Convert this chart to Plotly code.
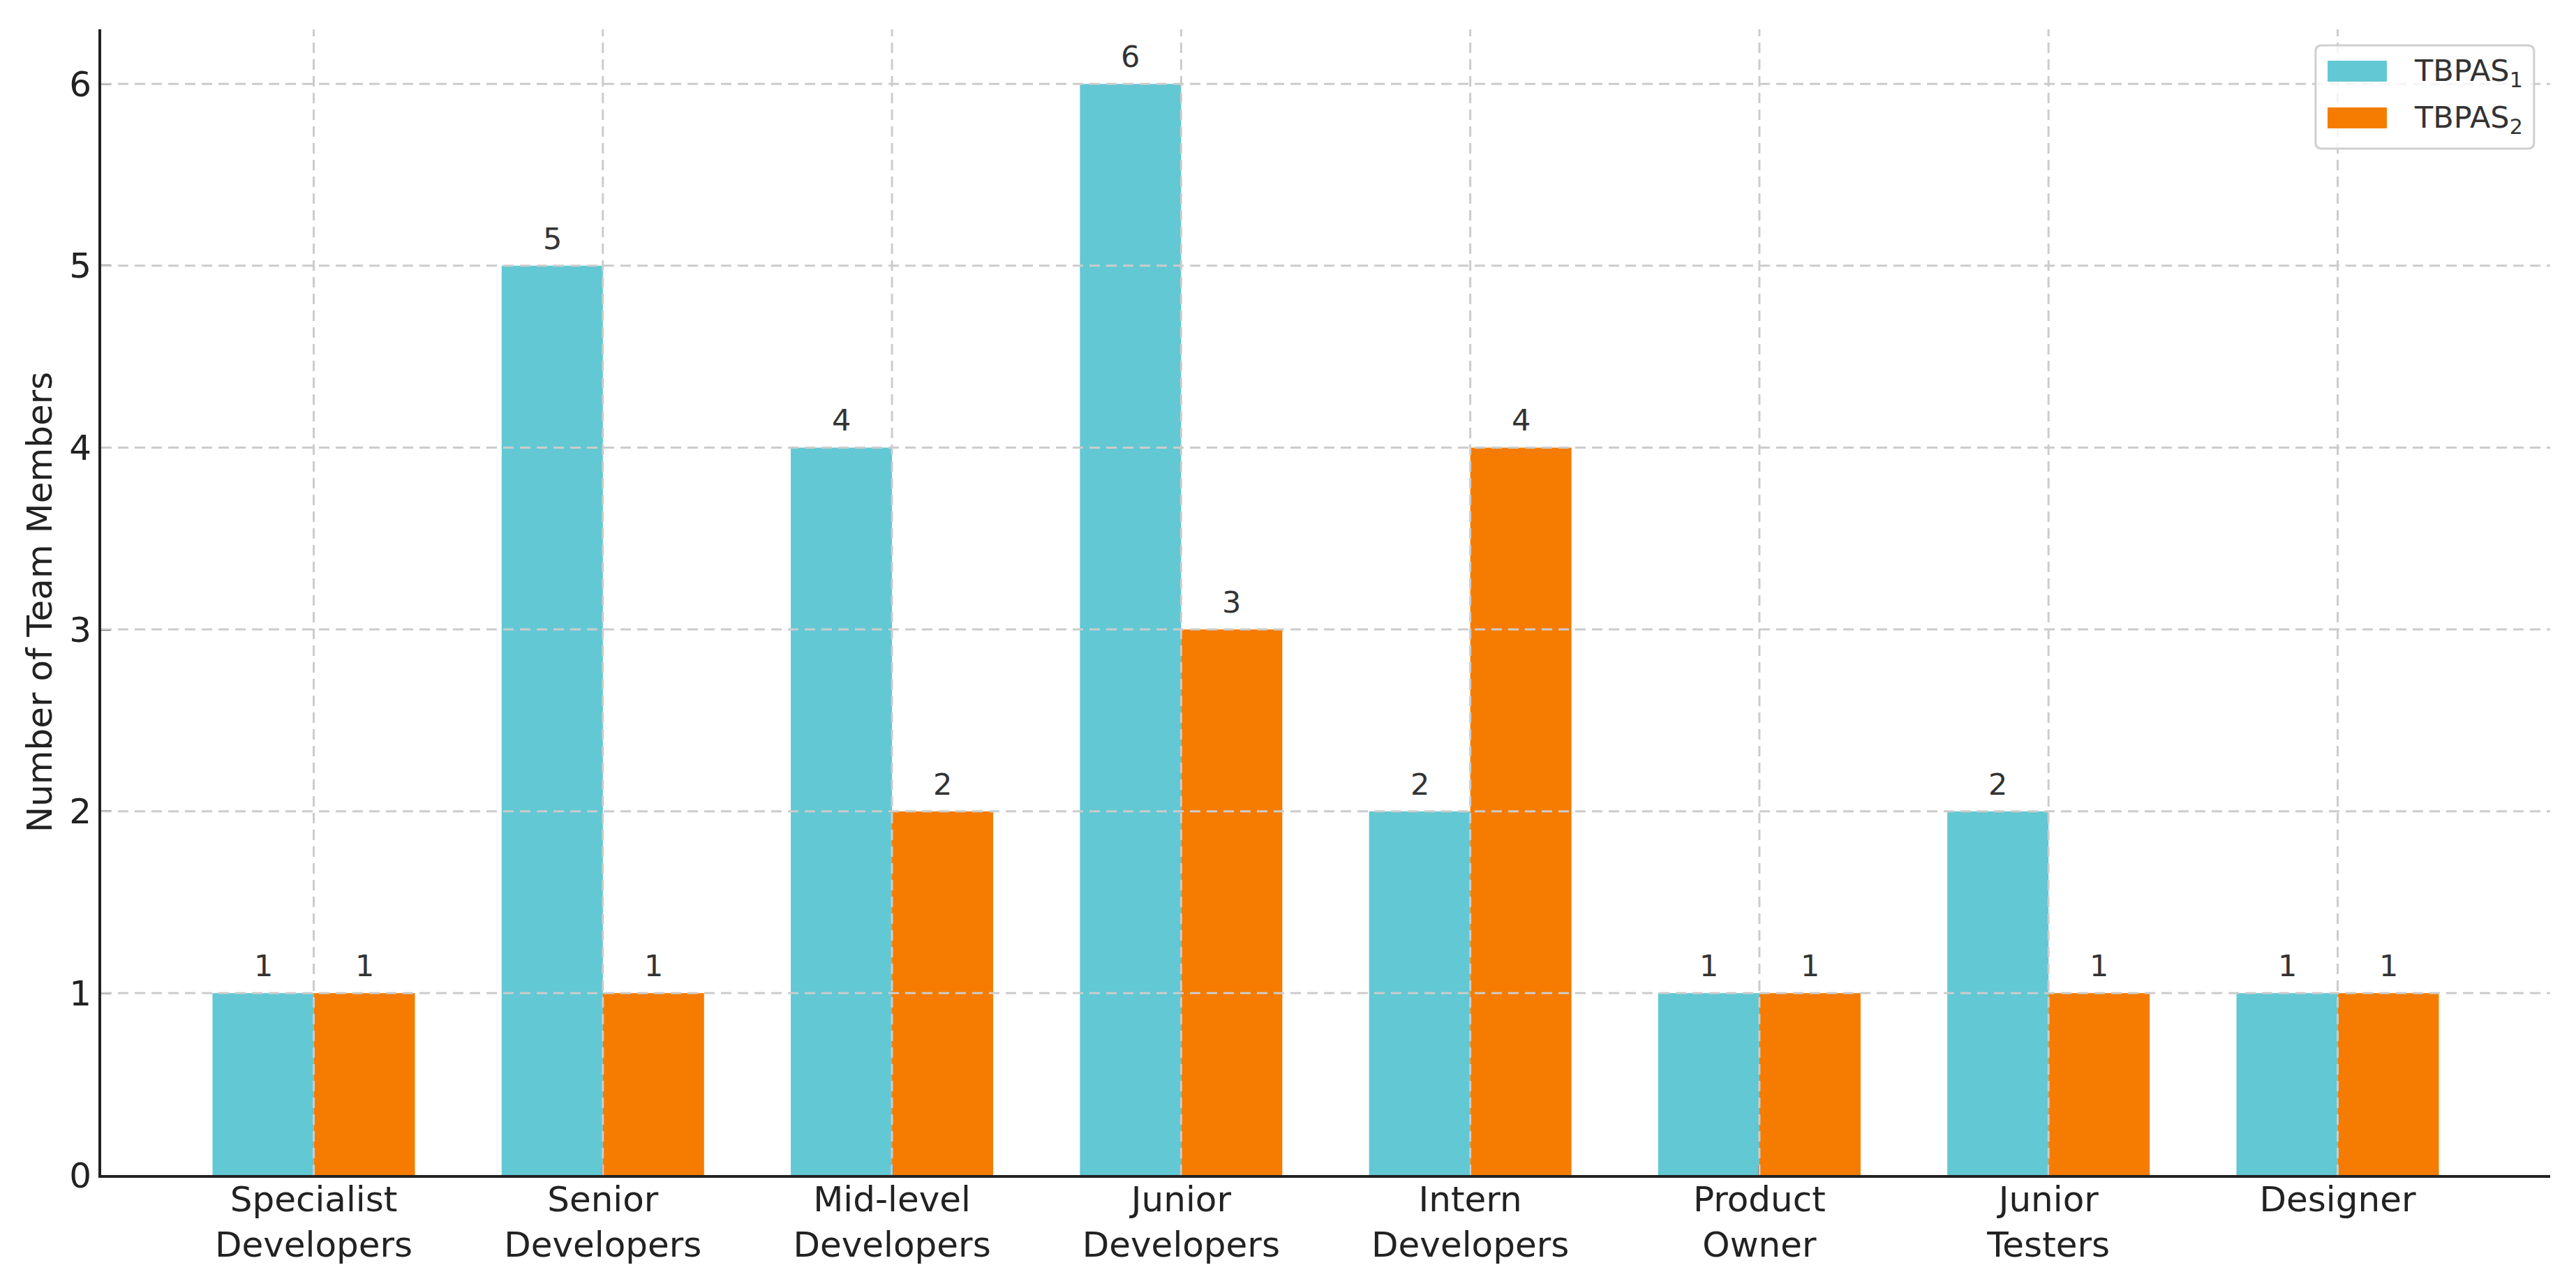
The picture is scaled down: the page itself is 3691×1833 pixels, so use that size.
import numpy as np
import plotly.graph_objects as go

categories = ["Specialist<br>Developers", "Senior<br>Developers", "Mid-level<br>Developers",
              "Junior<br>Developers", "Intern<br>Developers", "Product<br>Owner",
              "Junior<br>Testers", "Designer"]
tbpas1 = [1, 5, 4, 6, 2, 1, 2, 1]
tbpas2 = [1, 1, 2, 3, 4, 1, 1, 1]
series_names = ["TBPAS<sub>1</sub>", "TBPAS<sub>2</sub>"]
y_ticks = [0, 1, 2, 3, 4, 5, 6]

colors = ["#62c8d3", "#f57c00"]
bar_w = 0.35
idx = np.arange(len(categories))

FONT = "DejaVu Sans"
TXT = "#333333"

fig = go.Figure()
annotations = []
series = [(tbpas1, series_names[0], colors[0], -bar_w),
          (tbpas2, series_names[1], colors[1], 0.0)]
for vals, name, col, off in series:
    fig.add_trace(go.Bar(
        x=idx, y=vals, name=name, width=bar_w, offset=off,
        marker=dict(color=col, line=dict(width=0)),
        showlegend=False,
    ))
    for i, v in zip(idx, vals):
        annotations.append(dict(
            x=i + off + bar_w / 2, y=v, xref="x", yref="y",
            text=str(v), showarrow=False, yanchor="bottom", yshift=12,
            font=dict(family=FONT, size=43, color=TXT),
        ))

lo = idx[0] - bar_w
hi = idx[-1] + bar_w
pad = 0.05 * (hi - lo)
ymax = max(max(tbpas1), max(tbpas2)) * 1.05

grid = dict(color="#cccccc", width=3, dash="15px,9px")
shapes = []
for t in y_ticks[1:]:
    shapes.append(dict(type="line", xref="paper", yref="y", x0=0, x1=1, y0=t, y1=t,
                       line=grid, layer="above"))
for i in idx:
    shapes.append(dict(type="line", xref="x", yref="paper", x0=i, x1=i, y0=0, y1=1,
                       line=grid, layer="above"))

# Legend (drawn as a framed box, matching the reference's wide swatches)
PW, PH = 3509.0, 1642.0  # plot area size in px
def px_x(p):
    return p / PW
def px_y(p):
    return p / PH

bx0, bx1 = 0.9042, 0.9934
by1, by0 = 0.9860, 0.8958
rx, ry = px_x(9), px_y(9)
box_path = (f"M{bx0+rx},{by0} L{bx1-rx},{by0} Q{bx1},{by0} {bx1},{by0+ry} "
            f"L{bx1},{by1-ry} Q{bx1},{by1} {bx1-rx},{by1} "
            f"L{bx0+rx},{by1} Q{bx0},{by1} {bx0},{by1-ry} "
            f"L{bx0},{by0+ry} Q{bx0},{by0} {bx0+rx},{by0} Z")
shapes.append(dict(type="path", xref="paper", yref="paper", path=box_path,
                   fillcolor="rgba(255,255,255,0.8)",
                   line=dict(color="#d0d0d0", width=3), layer="above"))
row_y = [0.9635, 0.9227]
sw_x0, sw_x1 = 0.9091, 0.9333
sw_h = px_y(30)
for (vals, name, col, off), ry_c in zip(series, row_y):
    shapes.append(dict(type="rect", xref="paper", yref="paper",
                       x0=sw_x0, x1=sw_x1, y0=ry_c - sw_h / 2, y1=ry_c + sw_h / 2,
                       fillcolor=col, line=dict(width=0), layer="above"))
    annotations.append(dict(
        x=0.9439, y=ry_c, xref="paper", yref="paper", xanchor="left", yanchor="middle",
        text=name, showarrow=False, yshift=-2,
        font=dict(family=FONT, size=43, color=TXT),
    ))

fig.update_layout(
    width=3691, height=1833,
    margin=dict(l=145, r=37, t=42, b=149),
    paper_bgcolor="white", plot_bgcolor="white",
    barmode="overlay",
    showlegend=False,
    font=dict(family=FONT, color="#222222"),
    shapes=shapes,
    annotations=annotations,
    xaxis=dict(
        range=[lo - pad, hi + pad], tickvals=idx, ticktext=categories,
        showgrid=False, zeroline=False,
        showline=True, linecolor="#222222", linewidth=4,
        ticks="inside", ticklen=14, tickwidth=3, tickcolor="#222222",
        ticklabelstandoff=-12,
        tickfont=dict(family=FONT, size=50, color="#222222"),
    ),
    yaxis=dict(
        range=[0, ymax], tickvals=y_ticks,
        showgrid=False, zeroline=False,
        showline=True, linecolor="#222222", linewidth=4,
        ticks="inside", ticklen=14, tickwidth=3, tickcolor="#222222",
        tickfont=dict(family=FONT, size=50, color="#222222"),
        title=dict(text="Number of Team Members", standoff=10,
                   font=dict(family=FONT, size=50, color="#222222")),
    ),
)

fig.write_html("out.html", config={"displayModeBar": False},
               post_script="document.body.style.margin='0px';")
